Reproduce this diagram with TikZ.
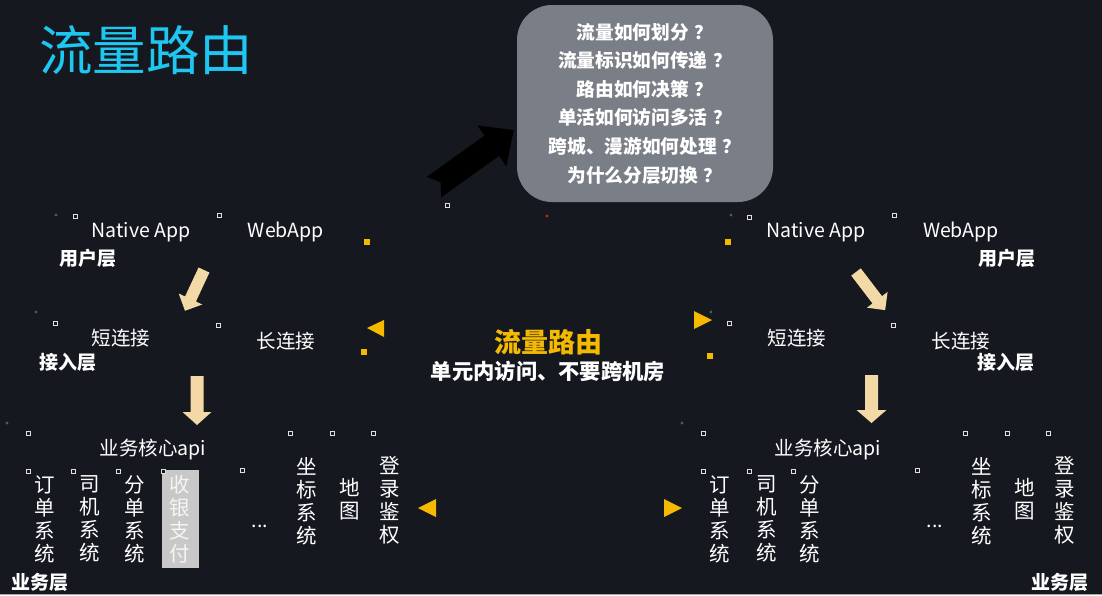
\documentclass[tikz,border=0pt]{standalone}
\usepackage{fontspec}
\setmainfont{Noto Sans CJK SC}
\definecolor{bg}{RGB}{21,24,31}
\definecolor{cyantitle}{RGB}{30,198,242}
\definecolor{boxgray}{RGB}{122,126,134}
\definecolor{gold}{RGB}{245,186,0}
\definecolor{tanarrow}{RGB}{242,217,165}
\definecolor{paygray}{RGB}{200,200,200}
\definecolor{dotgreen}{RGB}{50,105,85}
\definecolor{dotred}{RGB}{200,40,30}
\newcommand\blockarrow[8]{% style, tail coordinate, angle, length, shaft half, head half, head length, notch
  \fill[#1, shift={(#2)}, rotate=#3] (0,-#5) -- ({#4-#7},-#5) -- ({#4-#7},-#6) -- (#4,0) -- ({#4-#7},#6) -- ({#4-#7},#5) -- (0,#5) -- (#8,0) -- cycle;}
\newcommand\smalldot[2]{\draw[wdotstyle] (#1-2,#2-2) rectangle (#1+2,#2+2);}
\newcommand\greendot[2]{\fill[dotgreen] (#1,#2) circle (1.6);}
\newcommand\yellowsq[2]{\fill[gold] (#1-3,#2-3) rectangle (#1+3,#2+3);}
\newcommand\qm{\hspace{0.3em}？}
\tikzset{
  lbl/.style={text=white, inner sep=0pt, font=\fontsize{19.5}{23}\selectfont},
  layerlbl/.style={text=white, inner sep=0pt, font=\fontsize{19}{23}\selectfont\bfseries},
  col/.style={text=white, inner sep=0pt, align=center, font=\fontsize{20.5}{23}\selectfont},
  tri/.style={fill=gold},
  wdotstyle/.style={draw=white!75!gray, line width=0.8pt, fill=bg},
  tanfill/.style={fill=tanarrow},
  blackfill/.style={fill=black},
}
\begin{document}
\begin{tikzpicture}[x=1pt,y=-1pt]
\useasboundingbox (0,0) rectangle (1102,595);
\fill[bg] (0,0) rectangle (1102,595);
\fill[gray!70] (0,593.8) rectangle (1102,595);

% title
\node[text=cyantitle, inner sep=0pt, font=\fontsize{53.5}{60}\selectfont] (title) at (146,50) {流量路由};

% question box
\node[fill=boxgray, rounded corners=35pt, minimum width=256pt, minimum height=197pt, inner sep=0pt] (qbox) at (645,103.5) {};
\node[text=white, inner sep=0pt, align=center, font=\fontsize{18.7}{28.6}\selectfont\bfseries] (qtext) at (qbox.center)
 {流量如何划分\qm\\流量标识如何传递\qm\\路由如何决策\qm\\单活如何访问多活\qm\\跨城、漫游如何处理\qm\\为什么分层切换\qm};

% black arrow pointing to the box
\coordinate (btail) at (434,187);
\blockarrow{blackfill}{btail}{35.5}{98}{12.5}{25}{27}{8}

% centre text
\node[text=gold, inner sep=0pt, font=\fontsize{27}{30}\selectfont\bfseries] (ctitle) at (548,342) {流量路由};
\node[text=white, inner sep=0pt, font=\fontsize{21.3}{25}\selectfont\bfseries] (csub) at (548,371) {单元内访问、不要跨机房};

% ---------- left side ----------
\node[lbl] (lnative) at (141,232) {Native App};
\node[lbl] (lweb) at (286,232) {WebApp};
\node[layerlbl] (luser) at (88,258) {用户层};
\node[lbl] (lshort) at (121,338) {短连接};
\node[lbl] (llong) at (286,341) {长连接};
\node[layerlbl] (laccess) at (68,362) {接入层};
\node[lbl] (lapi) at (153,449) {业务核心api};
\fill[paygray] (162,470) rectangle (199,568);
\node[col] (lorder) at (45,519) {订\\单\\系\\统};
\node[col] (ldriver) at (90,519) {司\\机\\系\\统};
\node[col] (ldispatch) at (135,519) {分\\单\\系\\统};
\node[col, text=white!92!gray] (lpay) at (180,519) {收\\银\\支\\付};
\node[lbl, anchor=base] (ldots) at (260,527) {...};
\node[col] (lcoord) at (307,501) {坐\\标\\系\\统};
\node[col] (lmap) at (350,499) {地\\图};
\node[col] (llogin) at (390,500) {登\\录\\鉴\\权};
\node[layerlbl] (lbiz) at (40,582) {业务层};

\coordinate (la1) at (204,270);
\blockarrow{tanfill}{la1}{245}{45}{6}{13}{13}{0}
\coordinate (la2) at (197,376);
\blockarrow{tanfill}{la2}{-90}{49}{6.5}{14.5}{13}{0}

% ---------- right side ----------
\node[lbl] (rnative) at (816,232) {Native App};
\node[lbl] (rweb) at (961,232) {WebApp};
\node[layerlbl] (ruser) at (1007,258) {用户层};
\node[lbl] (rshort) at (797,338) {短连接};
\node[lbl] (rlong) at (961,341) {长连接};
\node[layerlbl] (raccess) at (1006,362) {接入层};
\node[lbl] (rapi) at (828,449) {业务核心api};
\node[col] (rorder) at (720,519) {订\\单\\系\\统};
\node[col] (rdriver) at (767,519) {司\\机\\系\\统};
\node[col] (rdispatch) at (810,519) {分\\单\\系\\统};
\node[lbl, anchor=base] (rdots) at (935,527) {...};
\node[col] (rcoord) at (982,501) {坐\\标\\系\\统};
\node[col] (rmap) at (1025,499) {地\\图};
\node[col] (rlogin) at (1065,500) {登\\录\\鉴\\权};
\node[layerlbl] (rbiz) at (1060,582) {业务层};

\coordinate (ra1) at (856,272);
\blockarrow{tanfill}{ra1}{-52.6}{48}{6}{13}{13}{0}
\coordinate (ra2) at (871.5,375);
\blockarrow{tanfill}{ra2}{-90}{48}{6.5}{15}{13}{0}

% yellow triangles
\fill[tri] (367,328) -- (384,320) -- (384,337) -- cycle;
\fill[tri] (712,320) -- (694,311) -- (694,329) -- cycle;
\fill[tri] (418,508) -- (436,499) -- (436,517) -- cycle;
\fill[tri] (682,508) -- (664,499) -- (664,517) -- cycle;

% small yellow squares
\yellowsq{367}{242}
\yellowsq{364}{352}
\yellowsq{728}{242}
\yellowsq{710}{356}

% tiny markers
\greendot{56}{215}\greendot{36}{312}\greendot{7}{423}
\greendot{731}{215}\greendot{711}{312}\greendot{682}{423}
\fill[dotred] (547,216) circle (1.6);
\smalldot{75}{216}\smalldot{219}{215}\smalldot{55}{323}\smalldot{218}{325}
\smalldot{28}{433}\smalldot{290}{433}\smalldot{332}{433}\smalldot{373}{433}
\smalldot{28}{471}\smalldot{73}{471}\smalldot{118}{471}\smalldot{163}{471}\smalldot{242}{470}
\smalldot{749}{217}\smalldot{894}{215}\smalldot{729}{323}\smalldot{893}{325}
\smalldot{703}{433}\smalldot{965}{433}\smalldot{1007}{433}\smalldot{1048}{433}
\smalldot{703}{471}\smalldot{749}{471}\smalldot{793}{471}\smalldot{917}{470}
\smalldot{447}{205}
\end{tikzpicture}
\end{document}
